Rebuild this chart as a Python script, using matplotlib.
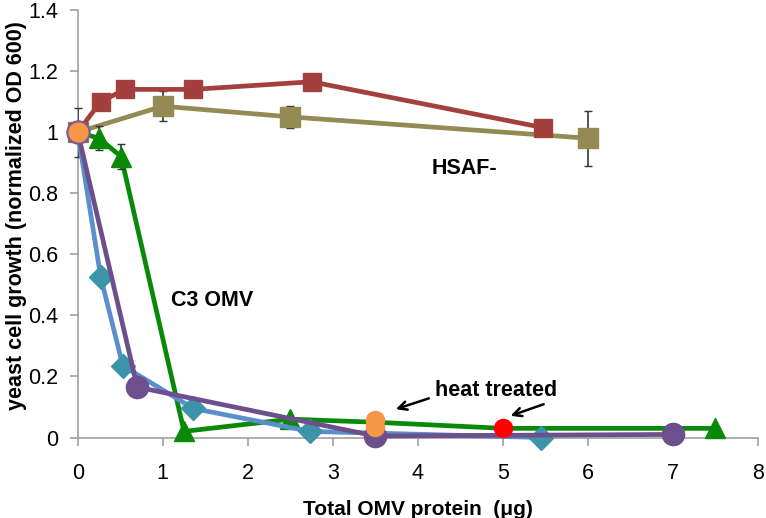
import matplotlib
matplotlib.use("Agg")
import matplotlib.pyplot as plt

plt.rcParams['font.family'] = ['Liberation Sans', 'DejaVu Sans']

# HSAF- series (red squares)
red_x = [0, 0.27, 0.56, 1.36, 2.75, 5.47]
red_y = [1.0, 1.10, 1.14, 1.14, 1.165, 1.015]

# tan squares with error bars
tan_x = [0, 1.0, 2.5, 6.0]
tan_y = [1.0, 1.085, 1.05, 0.98]
tan_err = [0.08, 0.05, 0.035, 0.09]

# green triangles
grn_x = [0, 0.25, 0.51, 1.25, 2.5, 3.5, 5.0, 7.5]
grn_y = [1.0, 0.98, 0.92, 0.02, 0.06, 0.05, 0.03, 0.03]
grn_err = [0, 0.04, 0.04, 0, 0, 0, 0, 0]
grn_mark = [1, 2, 3, 4, 7]

# blue line with teal diamonds
blu_x = [0, 0.27, 0.53, 1.36, 2.73, 5.45]
blu_y = [1.0, 0.525, 0.235, 0.095, 0.02, 0.0]

# purple circles
pur_x = [0, 0.70, 3.5, 7.0]
pur_y = [1.0, 0.165, 0.005, 0.01]

# heat treated points
org_x = [0, 3.5, 3.5]
org_y = [1.0, 0.058, 0.033]
hot_x = [5.0]
hot_y = [0.03]

x_ticks = [0, 1, 2, 3, 4, 5, 6, 7, 8]
y_ticks = [0, 0.2, 0.4, 0.6, 0.8, 1.0, 1.2, 1.4]
y_labels = ['0', '0.2', '0.4', '0.6', '0.8', '1', '1.2', '1.4']

fig = plt.figure(figsize=(7.66, 5.18), dpi=100)
ax = fig.add_axes([0.1015, 0.1554, 0.888, 0.8253])

lw = 3.4
# tan
ax.errorbar(tan_x, tan_y, yerr=tan_err, color='#948A54', lw=lw, marker='s', ms=14,
            mfc='#948A54', mec='#948A54', ecolor='#333333', elinewidth=1.2, capsize=3, zorder=3)
# red
ax.plot(red_x, red_y, color='#A3403D', lw=lw, marker='s', ms=13, mfc='#A3403D', mec='#A3403D', zorder=4)
# green line
ax.plot(grn_x, grn_y, color='#088A08', lw=lw, zorder=5)
ax.errorbar([grn_x[i] for i in grn_mark], [grn_y[i] for i in grn_mark],
            yerr=[grn_err[i] for i in grn_mark], fmt='^', ms=14, color='#088A08',
            ecolor='#333333', elinewidth=1.2, capsize=3, zorder=5)
# blue
ax.plot(blu_x, blu_y, color='#5B8FCB', lw=lw, zorder=6)
ax.plot(blu_x[1:], blu_y[1:], ls='none', marker='D', ms=12.5, mfc='#3C94A8', mec='#3C94A8', zorder=6)
# purple
ax.plot(pur_x, pur_y, color='#6C4F8C', lw=lw, marker='o', ms=16, mfc='#6C4F8C', mec='#6C4F8C', zorder=7)
# heat treated
ax.plot(org_x, org_y, ls='none', marker='o', ms=13, mfc='#F79646', mec='#F79646', zorder=8)
ax.plot(org_x[:1], org_y[:1], ls='none', marker='o', ms=16, mfc='#F79646', mec='#7A5C96', mew=1.5, zorder=8)
ax.plot(hot_x, hot_y, ls='none', marker='o', ms=13, mfc='#FF0000', mec='#FF0000', zorder=8)

ax.set_xlim(0, 8)
ax.set_ylim(0, 1.4)
ax.set_xticks(x_ticks)
ax.set_yticks(y_ticks)
ax.set_yticklabels(y_labels)
for s in ['top', 'right']:
    ax.spines[s].set_visible(False)
for s in ['left', 'bottom']:
    ax.spines[s].set_color('#A0A0A0')
    ax.spines[s].set_linewidth(1.2)
ax.tick_params(axis='both', direction='out', length=6, width=1.2, color='#A0A0A0',
               labelsize=15.5)
ax.tick_params(axis='x', pad=12)
ax.tick_params(axis='y', pad=8)
for sp in ax.spines.values():
    sp.set_zorder(1)
for ln in ax.lines:
    ln.set_clip_on(False)

ax.set_xlabel('Total OMV protein  (\u03bcg)', fontsize=15, fontweight='bold', labelpad=12)
ax.set_ylabel('yeast cell growth (normalized OD 600)', fontsize=15.5, fontweight='bold')
ax.yaxis.set_label_coords(-0.074, 0.52)

ax.text(4.55, 0.88, 'HSAF-', fontsize=15.5, fontweight='bold', ha='center', va='center')
ax.text(1.58, 0.45, 'C3 OMV', fontsize=15.5, fontweight='bold', ha='center', va='center')
ax.text(4.92, 0.153, 'heat treated', fontsize=15.5, fontweight='bold', ha='center', va='center')
ax.annotate('', xy=(3.71, 0.09), xytext=(4.16, 0.131),
            arrowprops=dict(arrowstyle='->', lw=1.8, color='black', mutation_scale=15))
ax.annotate('', xy=(5.06, 0.068), xytext=(5.51, 0.112),
            arrowprops=dict(arrowstyle='->', lw=1.8, color='black', mutation_scale=15))

fig.savefig('out.png', dpi=100)
